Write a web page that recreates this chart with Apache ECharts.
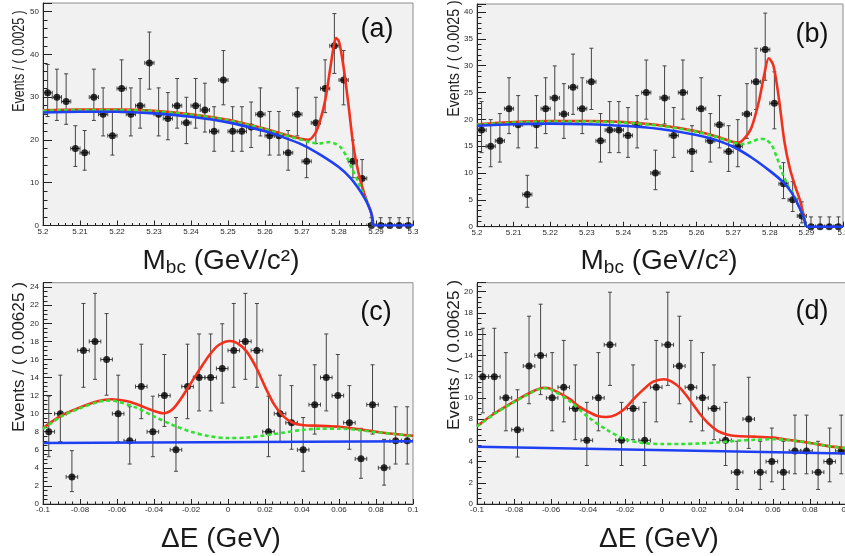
<!DOCTYPE html>
<html><head><meta charset="utf-8">
<script src="https://cdn.jsdelivr.net/npm/echarts@6/dist/echarts.min.js"></script>
<style>html,body{margin:0;padding:0;background:#fff}#c{width:845px;height:556px}</style>
</head><body><div id="c"></div>
<script>
// ---------- data ----------
const mbcBins = { min: 5.2, max: 5.3, width: 0.0025 };
const deBins = { min: -0.1, max: 0.1, width: 0.00625 };

const countsA = [31,30,29,18,17,30,26,21,32,26,28,38,26,25,28,24,28,27,22,34,22,22,23,26,21,21,17,26,15,24,32,42,34,15,11,0,0,0,0,0];
const countsB = [18,15,16,22,19,6,19,22,24,21,26,22,27,16,18,18,17,19,25,10,24,17,25,14,22,16,19,14,15,21,27,33,23,8,5,2,0,0,0,0];
const countsC = [8,10,3,17,18,16,10,7,13,8,12,6,13,14,14,15,17,18,17,8,10,9,6,11,14,12,9,5,11,4,7,7];
const countsD = [12,12,10,7,13,14,10,11,9,6,10,15,6,9,6,11,15,13,11,10,9,6,3,8,3,4,3,5,5,3,4,5];

// fitted curves (x, y)
const redA = [[5.2,26.9],[5.21,27.1],[5.22,27.1],[5.23,26.8],[5.24,26.0],[5.25,24.7],[5.26,22.6],[5.265,21.3],[5.27,20.2],[5.2717,20.0],[5.2736,21.6],[5.2749,24.5],[5.2763,29.4],[5.2776,36.5],[5.2785,41.5],[5.2792,43.8],[5.28,43.0],[5.2812,37.2],[5.2826,27.9],[5.2839,18.5],[5.2853,12.2],[5.2866,8.1],[5.2878,5.1],[5.2886,3.3],[5.2891,1.3],[5.2892,0]];
const greenA = [[5.2,26.8],[5.21,27.0],[5.22,27.0],[5.23,26.7],[5.24,25.9],[5.25,24.6],[5.26,22.5],[5.265,21.2],[5.27,20.0],[5.2725,19.4],[5.275,19.2],[5.2775,19.5],[5.279,19.1],[5.2805,18.2],[5.282,16.2],[5.2835,13.3],[5.285,10.5],[5.2866,7.4],[5.2878,5.0],[5.2886,3.3],[5.2891,1.3],[5.2892,0]];
const blueA = [[5.2,26.4],[5.21,26.6],[5.22,26.6],[5.23,26.2],[5.24,25.4],[5.25,24.1],[5.26,22.0],[5.265,20.6],[5.27,18.9],[5.275,16.5],[5.28,13.6],[5.283,11.2],[5.285,9.0],[5.287,6.3],[5.2878,4.9],[5.2886,3.2],[5.2891,1.3],[5.2892,0]];
const tailA = [[5.2892,0],[5.3,0]];

const redB = [[5.2,19.1],[5.21,19.5],[5.22,19.7],[5.23,19.7],[5.24,19.5],[5.25,18.9],[5.26,17.8],[5.265,16.9],[5.27,15.8],[5.2715,15.7],[5.273,16.4],[5.275,18.5],[5.277,23.3],[5.2785,28.4],[5.2797,31.4],[5.281,30.0],[5.2825,23.8],[5.284,15.8],[5.2855,10.8],[5.287,7.4],[5.2883,4.8],[5.2892,2.2],[5.2899,0]];
const greenB = [[5.2,19.0],[5.21,19.4],[5.22,19.6],[5.23,19.6],[5.24,19.4],[5.25,18.8],[5.26,17.7],[5.265,16.8],[5.27,15.7],[5.2725,15.4],[5.275,15.8],[5.2775,16.4],[5.279,16.2],[5.2805,15.2],[5.282,12.8],[5.2835,9.9],[5.285,7.6],[5.2865,6.0],[5.2875,4.5],[5.2888,2.5],[5.2895,1.2],[5.2899,0]];
const blueB = [[5.2,18.8],[5.21,19.1],[5.22,19.2],[5.23,19.1],[5.24,18.8],[5.25,18.2],[5.26,17.1],[5.265,16.2],[5.27,14.9],[5.275,12.9],[5.28,10.4],[5.2838,8.2],[5.286,6.3],[5.2875,4.4],[5.2888,2.5],[5.2895,1.2],[5.2899,0]];
const tailB = [[5.2899,0],[5.3,0]];

const redC = [[-0.1,8.4],[-0.09,9.8],[-0.08,10.7],[-0.07,11.4],[-0.063,11.6],[-0.055,11.4],[-0.05,11.1],[-0.04,10.3],[-0.035,10.05],[-0.03,10.5],[-0.025,11.8],[-0.02,13.4],[-0.015,15.0],[-0.01,16.5],[-0.005,17.6],[0.001,18.05],[0.005,17.8],[0.01,16.9],[0.015,15.2],[0.02,13.0],[0.025,11.0],[0.03,9.7],[0.035,9.0],[0.04,8.75],[0.05,8.65],[0.06,8.55],[0.07,8.3],[0.08,8.0],[0.09,7.75],[0.1,7.55]];
const greenC = [[-0.1,8.3],[-0.09,9.7],[-0.08,10.6],[-0.07,11.3],[-0.064,11.45],[-0.06,11.35],[-0.05,10.7],[-0.04,9.7],[-0.03,8.75],[-0.02,8.0],[-0.01,7.5],[0,7.3],[0.01,7.35],[0.02,7.6],[0.03,7.9],[0.04,8.2],[0.05,8.35],[0.06,8.35],[0.07,8.2],[0.08,7.95],[0.09,7.75],[0.1,7.5]];
const blueC = [[-0.1,6.75],[0.1,6.95]];

const redD = [[-0.1,7.35],[-0.09,8.6],[-0.08,9.65],[-0.07,10.6],[-0.064,10.95],[-0.06,10.85],[-0.05,9.9],[-0.045,9.2],[-0.04,8.7],[-0.035,8.3],[-0.03,8.2],[-0.025,8.4],[-0.02,9.0],[-0.015,9.95],[-0.01,10.8],[-0.005,11.5],[0.001,11.75],[0.005,11.55],[0.01,10.9],[0.015,9.8],[0.02,8.6],[0.025,7.6],[0.03,6.9],[0.035,6.55],[0.04,6.4],[0.05,6.35],[0.06,6.25],[0.07,6.0],[0.08,5.75],[0.09,5.45],[0.1,5.25]];
const greenD = [[-0.1,7.3],[-0.09,8.55],[-0.08,9.6],[-0.07,10.55],[-0.064,10.9],[-0.06,10.8],[-0.05,9.7],[-0.04,8.2],[-0.03,7.0],[-0.02,6.1],[-0.01,5.75],[0,5.65],[0.01,5.65],[0.02,5.7],[0.03,5.8],[0.04,5.95],[0.05,6.05],[0.06,6.1],[0.07,6.0],[0.08,5.75],[0.09,5.45],[0.1,5.25]];
const blueD = [[-0.1,5.4],[0.1,4.75]];

const yTicksMax = [52, 41.5, 24.5, 20.85];
const yTickStep = [10, 5, 2, 2];
const panelLabels = ['(a)', '(b)', '(c)', '(d)'];
const yTitles = ['Events / ( 0.0025 )', 'Events / ( 0.0025 )', 'Events / ( 0.00625 )', 'Events / ( 0.00625 )'];

// ---------- build ----------
function poissonErr(n) { // Garwood 68% interval (Wilson-Hilferty)
  const lo = n === 0 ? 0 : n * Math.pow(1 - 1 / (9 * n) - 1 / (3 * Math.sqrt(n)), 3);
  const m = n + 1;
  const hi = m * Math.pow(1 - 1 / (9 * m) + 1 / (3 * Math.sqrt(m)), 3);
  return [lo, hi];
}
function binned(counts, bins) {
  return counts.map((n, i) => {
    const x = bins.min + (i + 0.5) * bins.width;
    const e = poissonErr(n);
    return [x, n, e[0], e[1]];
  });
}
const panels = [
  { bins: mbcBins, data: binned(countsA, mbcBins), red: redA, green: greenA, blue: blueA, tail: tailA, xi: 0.01 },
  { bins: mbcBins, data: binned(countsB, mbcBins), red: redB, green: greenB, blue: blueB, tail: tailB, xi: 0.01 },
  { bins: deBins, data: binned(countsC, deBins), red: redC, green: greenC, blue: blueC, tail: null, xi: 0.02 },
  { bins: deBins, data: binned(countsD, deBins), red: redD, green: greenD, blue: blueD, tail: null, xi: 0.02 }
];
const gridPos = [
  { left: 43, top: 3, width: 370, height: 222.5 },
  { left: 477, top: 4, width: 366, height: 222.7 },
  { left: 43, top: 282.7, width: 370, height: 221.3 },
  { left: 477, top: 282.7, width: 370, height: 221.3 }
];
const yMinorSplit = [5, 5, 4, 4];
const FONT = 'Liberation Sans';
const RED = '#f2311d', GREEN = '#2fe32f', BLUE = '#1f3ff2';

function errRender(hw) {
  return function (params, api) {
    const x = api.value(0), y = api.value(1), lo = api.value(2), hi = api.value(3);
    const c = api.coord([x, y]);
    const pl = api.coord([x - hw, y]), pr = api.coord([x + hw, y]);
    const pLo = api.coord([x, lo]), pHi = api.coord([x, hi]);
    const cap = 2;
    const st = { stroke: '#444', lineWidth: 1, fill: null };
    return {
      type: 'group', children: [
        { type: 'line', shape: { x1: c[0], y1: pLo[1], x2: c[0], y2: pHi[1] }, style: st },
        { type: 'line', shape: { x1: c[0] - cap, y1: pHi[1], x2: c[0] + cap, y2: pHi[1] }, style: st },
        { type: 'line', shape: { x1: c[0] - cap, y1: pLo[1], x2: c[0] + cap, y2: pLo[1] }, style: st },
        { type: 'line', shape: { x1: pl[0], y1: c[1], x2: pr[0], y2: c[1] }, style: st },
        { type: 'line', shape: { x1: pl[0], y1: c[1] - cap, x2: pl[0], y2: c[1] + cap }, style: st },
        { type: 'line', shape: { x1: pr[0], y1: c[1] - cap, x2: pr[0], y2: c[1] + cap }, style: st }
      ]
    };
  };
}

const grid = gridPos.map(g => Object.assign({
  show: true, backgroundColor: '#f1f1f1', borderColor: '#8c8c8c', borderWidth: 1,
  containLabel: false, outerBoundsMode: 'none'
}, g));

const xAxis = panels.map((p, i) => ({
  type: 'value', gridIndex: i, min: p.bins.min, max: p.bins.max, interval: p.xi,
  axisLine: { show: true, onZero: false, lineStyle: { color: '#222', width: 1 } },
  axisTick: { show: true, inside: true, length: 5, lineStyle: { color: '#222' } },
  minorTick: { show: true, splitNumber: 5, length: 2.5, lineStyle: { color: '#222' } },
  splitLine: { show: false }, minorSplitLine: { show: false },
  axisLabel: { fontSize: 8, fontFamily: FONT, color: '#2a2a2a', margin: 2,
    formatter: v => String(Math.round(v * 10000) / 10000) }
}));
const yAxis = panels.map((p, i) => ({
  type: 'value', gridIndex: i, min: 0, max: yTicksMax[i], interval: yTickStep[i],
  axisLine: { show: true, onZero: false, lineStyle: { color: '#222', width: 1 } },
  axisTick: { show: true, inside: true, length: 9, lineStyle: { color: '#222' } },
  minorTick: { show: true, splitNumber: yMinorSplit[i], length: 4.5, lineStyle: { color: '#222' } },
  splitLine: { show: false }, minorSplitLine: { show: false },
  axisLabel: { fontSize: 8, fontFamily: FONT, color: '#2a2a2a', margin: 4, showMaxLabel: false }
}));

const series = [];
panels.forEach((p, i) => {
  series.push({
    type: 'custom', xAxisIndex: i, yAxisIndex: i, clip: true, silent: true,
    renderItem: errRender(p.bins.width / 2), encode: { x: 0, y: 1 }, data: p.data, z: 2
  });
  series.push({
    type: 'scatter', xAxisIndex: i, yAxisIndex: i, symbolSize: 7, silent: true,
    itemStyle: { color: '#000' }, data: p.data.map(d => [d[0], d[1]]), z: 3
  });
  const lineBase = { type: 'line', xAxisIndex: i, yAxisIndex: i, symbol: 'none', silent: true,
    smooth: 0.3, clip: true };
  series.push(Object.assign({}, lineBase, { data: p.red, z: 4, lineStyle: { color: RED, width: 2.6 } }));
  series.push(Object.assign({}, lineBase, { data: p.green, z: 5, lineStyle: { color: GREEN, width: 2.6, type: [4, 3] } }));
  series.push(Object.assign({}, lineBase, { data: p.blue, z: 6, smooth: p.blue.length > 2 ? 0.3 : false,
    lineStyle: { color: BLUE, width: 2.6 } }));
  if (p.tail) series.push(Object.assign({}, lineBase, { data: p.tail, z: 6, smooth: false,
    lineStyle: { color: BLUE, width: 2.6 } }));
});

const titleFill = '#1a1a1a';
function mbcTitle(cx) {
  return { type: 'text', x: cx, y: 261, z: 10, silent: true, style: {
    text: '{m|M}{s|bc}{m| (GeV/c²)}', align: 'center', verticalAlign: 'middle', fill: titleFill,
    rich: {
      m: { fontSize: 28, fontFamily: FONT, fill: titleFill, lineHeight: 32 },
      s: { fontSize: 19, fontFamily: FONT, fill: titleFill, lineHeight: 12, verticalAlign: 'bottom' }
    } } };
}
function deTitle(cx) {
  return { type: 'text', x: cx, y: 539, z: 10, silent: true, style: {
    text: 'ΔE (GeV)', align: 'center', verticalAlign: 'middle', fill: titleFill,
    fontSize: 28, fontFamily: FONT } };
}
const yTitlePos = [[19.5, 61, 0.73], [454.5, 58.5, 0.84], [19.5, 357, 1.01], [454.5, 355, 1.01]];
const labelPos = [[377, 30], [812, 35], [376, 313], [812, 312]];
const graphic = [mbcTitle(221), mbcTitle(659), deTitle(221), deTitle(659)];
yTitles.forEach((t, i) => {
  const q = yTitlePos[i];
  graphic.push({ type: 'text', x: q[0], y: q[1], rotation: Math.PI / 2, scaleX: q[2], z: 10, silent: true,
    style: { text: t, align: 'center', verticalAlign: 'middle', fontSize: 17, fontFamily: FONT, fill: '#222' } });
});
panelLabels.forEach((t, i) => {
  const q = labelPos[i];
  graphic.push({ type: 'text', x: q[0], y: q[1], z: 10, silent: true,
    style: { text: t, align: 'center', verticalAlign: 'middle', fontSize: 27, fontFamily: FONT, fill: '#111' } });
});

const chart = echarts.init(document.getElementById('c'), null, { renderer: 'canvas' });
chart.setOption({ animation: false, backgroundColor: '#fff', grid, xAxis, yAxis, series, graphic });
</script></body></html>
